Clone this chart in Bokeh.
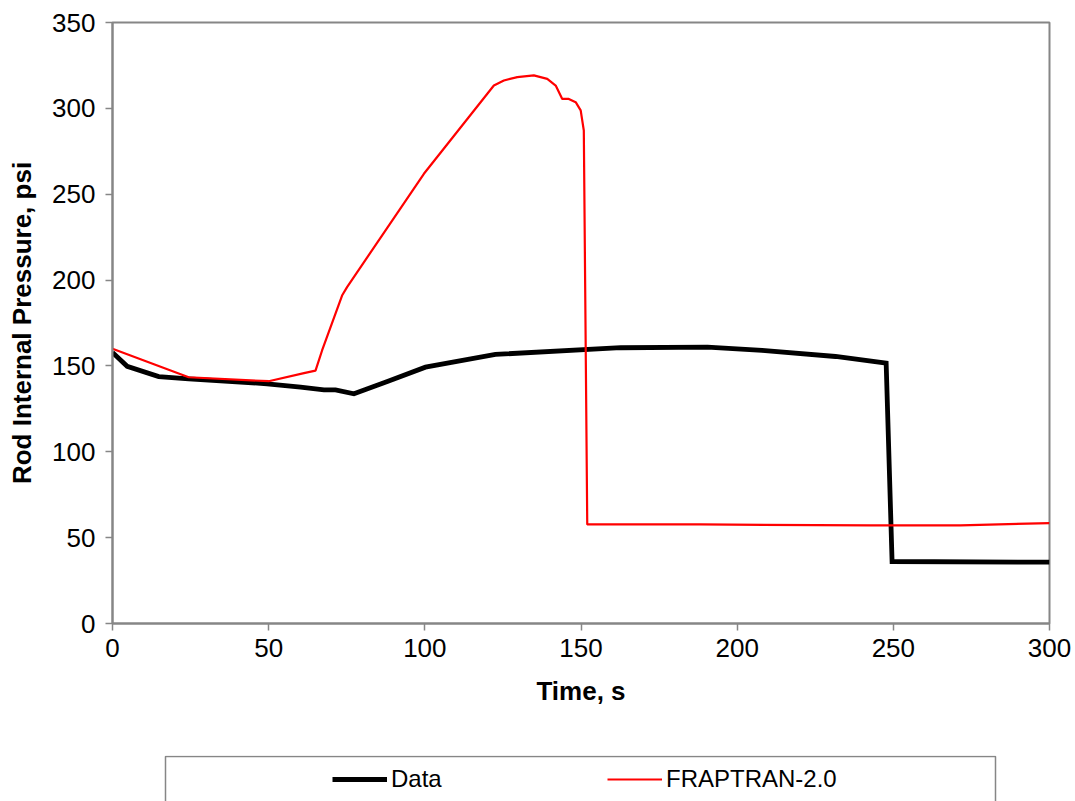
from bokeh.plotting import figure
from bokeh.models import Range1d, FixedTicker, Legend, LegendItem
from bokeh.layouts import column
from bokeh.embed import file_html
from bokeh.resources import INLINE

# Data
data_t = [0, 4.7, 14.8, 24.4, 49.5, 60.2, 67.7, 71.4, 77.3, 88, 100.2, 122.6, 162.7, 190.5, 208, 231.5, 247.7, 249.6, 300]
data_p = [157.8, 149.8, 143.8, 142.5, 139.6, 137.6, 136.1, 136.1, 133.8, 141, 149.3, 156.7, 160.6, 161, 159, 155.5, 151.6, 36.1, 35.7]

frap_t = [0, 24.4, 50, 61.3, 65, 67.1, 73.5, 75.1, 99.7, 122.1, 125.3, 129.6, 134.9, 139.2, 141.9, 144, 146.1, 148.3, 149.9, 150.9, 152, 188, 242.7, 271.5, 300]
frap_p = [160, 143.4, 141.1, 145.8, 147.3, 159, 191, 195.9, 261.9, 313.3, 316.2, 318.2, 319.2, 317.2, 313.3, 305.5, 305.5, 303.6, 298.8, 287.1, 57.7, 57.7, 57.1, 57.1, 58.5]

x_ticks = [0, 50, 100, 150, 200, 250, 300]
y_ticks = [0, 50, 100, 150, 200, 250, 300, 350]

series_names = ["Data", "FRAPTRAN-2.0"]
series_colors = ["black", "#ff0000"]
series_widths = [4.8, 2.2]

FONT = "Liberation Sans"
GRAY = "#868686"
BL, BR = 112, 26  # frame borders shared by both panels

p = figure(width=1075, height=755, output_backend="svg", toolbar_location=None,
           x_range=Range1d(0, 300), y_range=Range1d(0, 350),
           min_border_left=BL, min_border_right=BR, min_border_top=22, min_border_bottom=132)

p.grid.visible = False
p.outline_line_color = GRAY
p.outline_line_width = 2
p.background_fill_color = "white"
p.border_fill_color = "white"

for ax, ticks in ((p.xaxis[0], x_ticks), (p.yaxis[0], y_ticks)):
    ax.ticker = FixedTicker(ticks=ticks)
    ax.minor_tick_line_color = None
    ax.major_tick_in = 0
    ax.major_tick_out = 7
    ax.major_tick_line_color = GRAY
    ax.major_tick_line_width = 1.5
    ax.axis_line_color = GRAY
    ax.axis_line_width = 2
    ax.major_label_text_font = FONT
    ax.major_label_text_font_size = "26px"
    ax.major_label_text_color = "black"
    ax.axis_label_text_font = FONT
    ax.axis_label_text_font_size = "26px"
    ax.axis_label_text_font_style = "bold"
    ax.axis_label_text_color = "black"

p.xaxis.axis_label = "Time, s"
p.yaxis.axis_label = "Rod Internal Pressure, psi"
p.xaxis.major_label_standoff = 8
p.xaxis.axis_label_standoff = 16
p.yaxis.major_label_standoff = 10
p.yaxis.axis_label_standoff = 12

p.line(data_t, data_p, line_color=series_colors[0], line_width=series_widths[0], line_join="miter")
p.line(frap_t, frap_p, line_color=series_colors[1], line_width=series_widths[1])

# Legend panel below the chart; its ranges are set in pixel units of the page
lg = figure(width=1075, height=46, output_backend="svg", toolbar_location=None,
            x_range=Range1d(BL, 1075 - BR), y_range=Range1d(0, 46),
            min_border_left=BL, min_border_right=BR, min_border_top=0, min_border_bottom=0,
            x_axis_type=None, y_axis_type=None)
lg.grid.visible = False
lg.outline_line_color = None
lg.background_fill_color = "white"
lg.border_fill_color = "white"

# legend frame
lg.quad(left=[165], right=[995], top=[45], bottom=[-10],
        fill_alpha=0, line_color=GRAY, line_width=1.5)

items = []
for name, col, w in zip(series_names, series_colors, series_widths):
    r = lg.line([-100, -90], [-100, -90], line_color=col, line_width=w)
    items.append(LegendItem(label=name, renderers=[r]))

legend = Legend(items=items, location=(220, 8), orientation="horizontal",
                glyph_width=55, glyph_height=26, label_height=26, label_standoff=4, label_width=216,
                spacing=0, padding=0, margin=0,
                label_text_font=FONT, label_text_font_size="24px", label_text_color="black",
                border_line_alpha=0, background_fill_alpha=0)
lg.add_layout(legend, "center")

layout = column(p, lg, spacing=0)
open("out.html", "w").write(file_html(layout, INLINE))
